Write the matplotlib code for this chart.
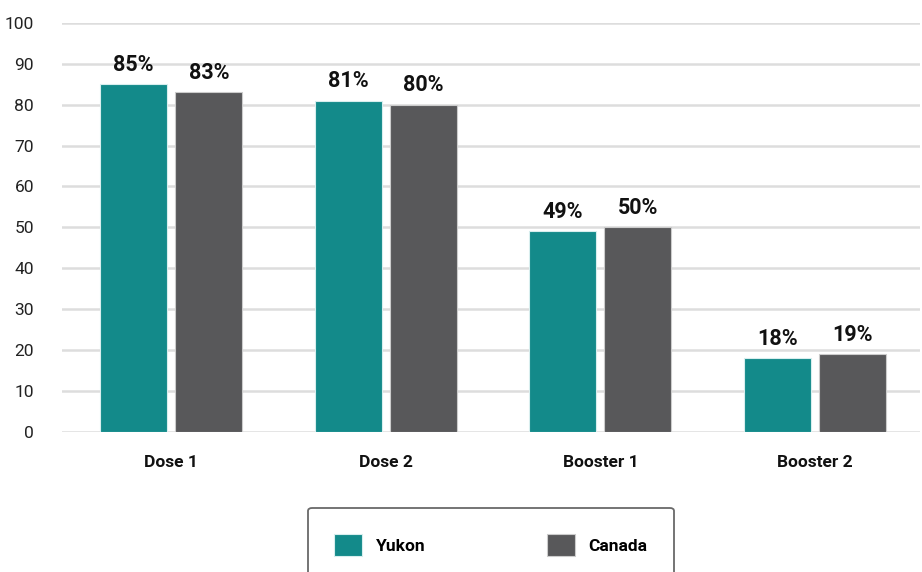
import matplotlib.pyplot as plt
import numpy as np

categories = ["Dose 1", "Dose 2", "Booster 1", "Booster 2"]
yukon = [85, 81, 49, 18]
canada = [83, 80, 50, 19]

plt.rcParams['font.family'] = ['Roboto', 'DejaVu Sans']

fig = plt.figure(figsize=(9.22, 5.72), dpi=100)
ax = fig.add_axes([0.067, 0.245, 0.931, 0.715])

x = np.arange(len(categories))
w = 0.312
off = 0.175
teal = '#138a8a'
grey = '#58585a'

b1 = ax.bar(x - off, yukon, w, color=teal, edgecolor='#d8eeee', linewidth=0.8, label='Yukon', zorder=3)
b2 = ax.bar(x + off, canada, w, color=grey, edgecolor='#cccccc', linewidth=0.8, label='Canada', zorder=3)

for bars, vals in ((b1, yukon), (b2, canada)):
    for b, v in zip(bars, vals):
        ax.text(b.get_x() + b.get_width() / 2, v + 2.0, f"{v}%", ha='center', va='bottom',
                fontsize=15.5, fontweight='bold', color='#111111')

ax.set_xlim(-0.51, 3.49)
ax.set_ylim(0, 100)
ax.set_yticks(range(0, 101, 10))
ax.set_xticks(x)
ax.set_xticklabels(categories, fontsize=12.5, fontweight='bold', color='#111111')
ax.tick_params(axis='y', length=0, labelsize=12.5, labelcolor='#222222', pad=20)
ax.tick_params(axis='x', length=0, pad=17)
ax.grid(axis='y', color='#dddddd', linewidth=1.8, zorder=0)
for s in ax.spines.values():
    s.set_visible(False)

leg = fig.legend(handles=[b1, b2], loc='upper center', bbox_to_anchor=(491 / 922, 1 - 508 / 572),
                 ncol=2, frameon=True, fancybox=True, prop={'weight': 'bold', 'size': 12.5},
                 handlelength=1.6, handleheight=1.6, columnspacing=7, borderpad=1.5, handletextpad=0.8,
                 borderaxespad=0)
leg.get_frame().set_edgecolor('#444444')
leg.get_frame().set_linewidth(1.3)

fig.savefig('out.png', dpi=100)
